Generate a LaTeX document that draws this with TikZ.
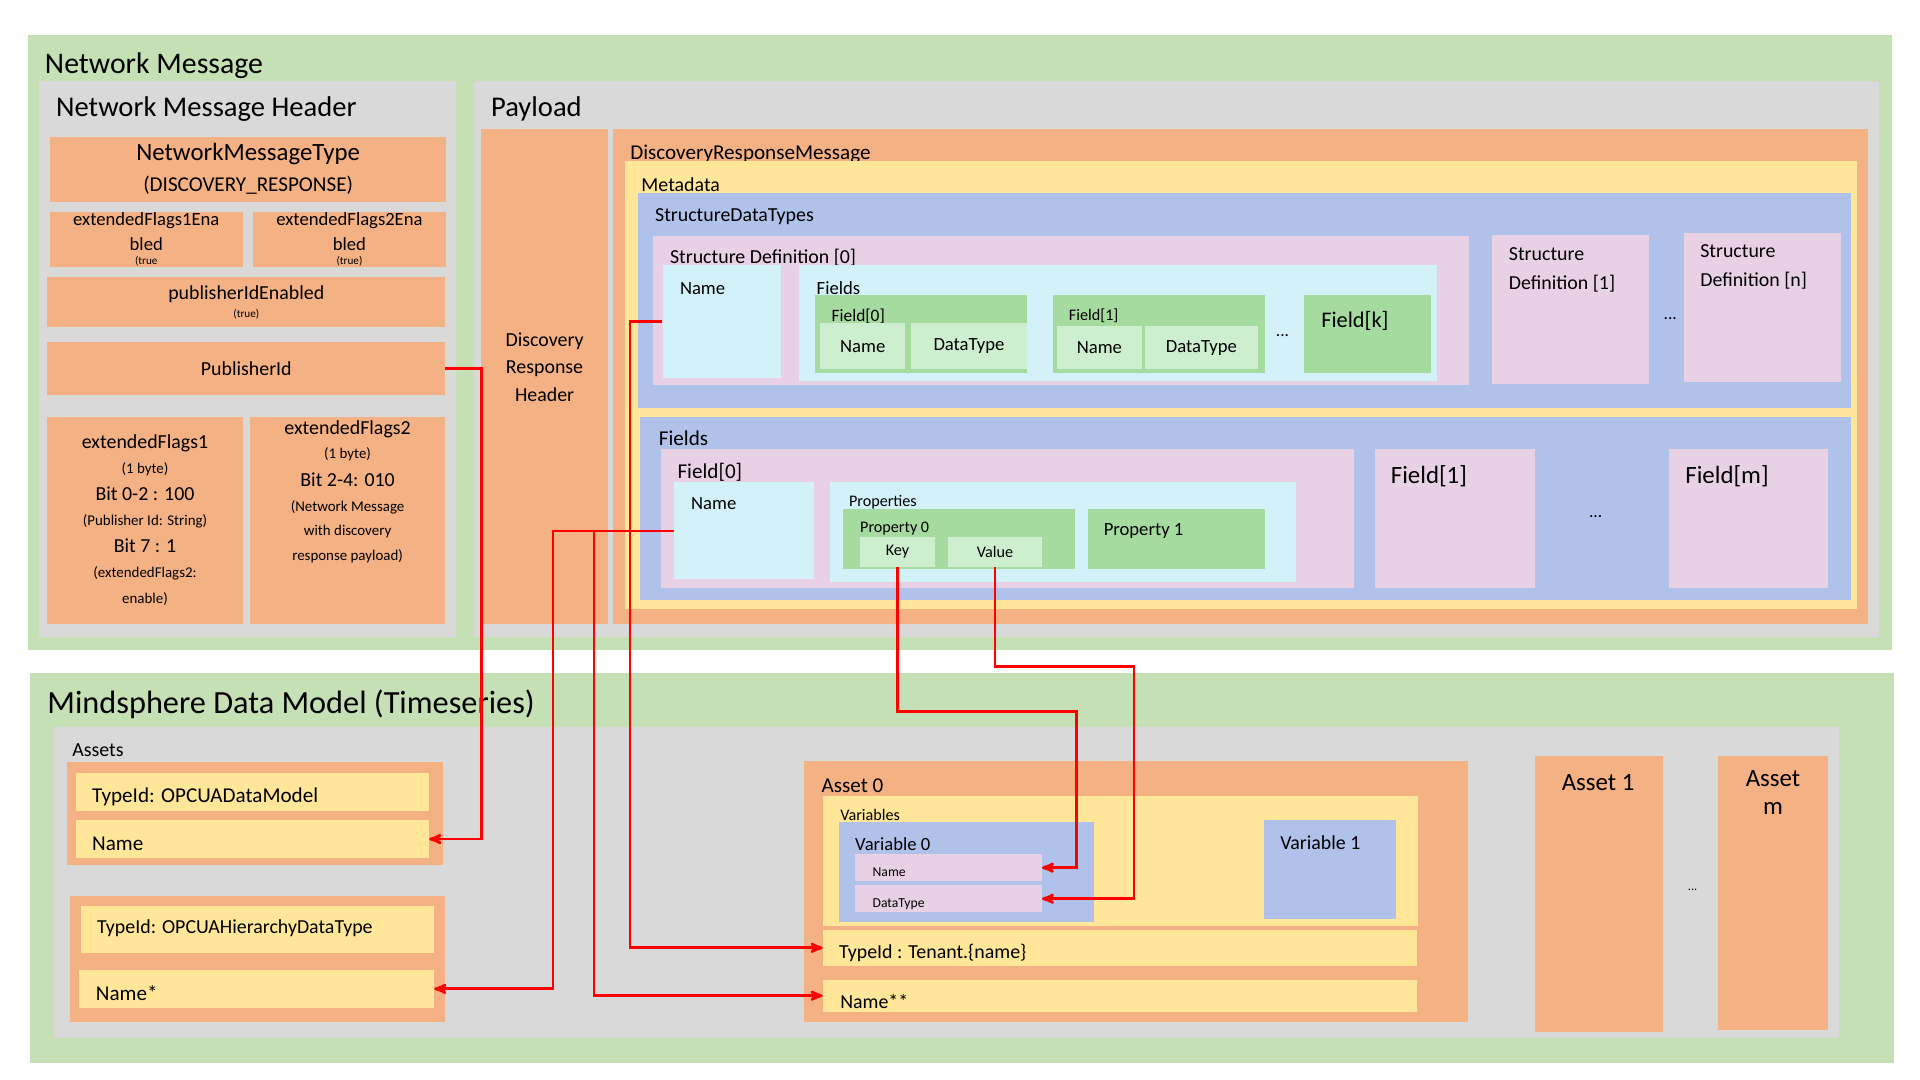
\documentclass[tikz,border=0pt]{standalone}
\usepackage{fontspec}
\setmainfont{Carlito}
\usetikzlibrary{calc,positioning,arrows}
\definecolor{cgreen}{HTML}{C5E0B4}
\definecolor{cgray}{HTML}{D9D9D9}
\definecolor{corange}{HTML}{F4B183}
\definecolor{cyellow}{HTML}{FFE699}
\definecolor{cblue}{HTML}{B0C2EA}
\definecolor{cpink}{HTML}{E8D1E4}
\definecolor{ccyan}{HTML}{D3F1F8}
\definecolor{cfield}{HTML}{A6DBA0}
\definecolor{clight}{HTML}{CDEFD0}
\definecolor{cred}{HTML}{FF0000}
\tikzset{
  blk/.style  = {rectangle, draw=none, inner sep=0pt, anchor=north west, align=center},
  lbl/.style  = {anchor=west, inner sep=0pt},
  link/.style = {->, >=stealth', draw=cred, line width=2.2pt}
}
% box: name, x1, y1, x2, y2, colour, text
\newcommand{\blk}[7]{\node[blk,fill=#6,minimum width={#4pt-#2pt},minimum height={#5pt-#3pt}] (#1) at (#2,#3) {#7};}
\newcommand{\fsz}[2]{{\fontsize{#1}{#1}\selectfont #2}}
\begin{document}
\begin{tikzpicture}[x=1pt,y=-1pt]
\useasboundingbox (0,0) rectangle (1545,869);
% network message
\blk{nm}{22}{28}{1522}{523}{cgreen}{}
\node[lbl,font=\fontsize{24}{26}\selectfont] (nmt) at (36,53) {Network Message};
\blk{hdr}{31}{65}{367}{512}{cgray}{}
\node[lbl,font=\fontsize{23}{25}\selectfont] (hdrt) at (45,88) {Network Message Header};
\blk{nmtype}{40}{110}{359}{162}{corange}{\fsz{20}{NetworkMessageType}\\[8pt]\fsz{17}{(DISCOVERY\_RESPONSE)}}
\blk{ef1e}{40}{170}{195}{215}{corange}{\fsz{15}{extendedFlags1Ena}\\[6pt]\fsz{15}{bled}\\[-1pt]\fsz{9}{(true}}
\blk{ef2e}{203}{170}{359}{215}{corange}{\fsz{15}{extendedFlags2Ena}\\[6pt]\fsz{15}{bled}\\[-1pt]\fsz{9}{(true)}}
\blk{pide}{38}{223}{358}{263}{corange}{\fsz{16}{publisherIdEnabled}\\[2pt]\fsz{9}{(true)}}
\blk{pubid}{38}{275}{358}{318}{corange}{\fsz{16}{PublisherId}}
\blk{ef1}{38}{335}{195}{502}{corange}{\fsz{16}{extendedFlags1}\\[8pt]\fsz{12}{(1 byte)}\\[8pt]\fsz{16}{Bit 0-2 : 100}\\[8pt]\fsz{12}{(Publisher Id: String)}\\[8pt]\fsz{16}{Bit 7 : 1}\\[8pt]\fsz{12}{(extendedFlags2:}\\[9pt]\fsz{12}{enable)}}
\blk{ef2}{201}{335}{358}{502}{corange}{\fsz{16}{extendedFlags2}\\[8pt]\fsz{12}{(1 byte)}\\[8pt]\fsz{16}{Bit 2-4: 010}\\[8pt]\fsz{12}{(Network Message}\\[8pt]\fsz{12}{with discovery}\\[8pt]\fsz{12}{response payload)}\\[36pt]}
% payload
\blk{pl}{381}{65}{1512}{512}{cgray}{}
\node[lbl,font=\fontsize{23}{25}\selectfont] (plt) at (395,88) {Payload};
\blk{drh}{387}{104}{489}{502}{corange}{\fsz{16}{Discovery}\\[8pt]\fsz{16}{Response}\\[8pt]\fsz{16}{Header}\\[4pt]}
\blk{drm}{493}{104}{1503}{502}{corange}{}
\node[lbl,font=\fontsize{17}{19}\selectfont] (drmt) at (507,124) {DiscoveryResponseMessage};
\blk{meta}{503}{129}{1494}{490}{cyellow}{}
\node[lbl,font=\fontsize{16}{18}\selectfont] (metat) at (516,149) {Metadata};
\blk{sdt}{513}{155}{1489}{328}{cblue}{}
\node[lbl,font=\fontsize{16}{18}\selectfont] (sdtt) at (527,174) {StructureDataTypes};
\blk{sd0}{525}{190}{1182}{310}{cpink}{}
\node[lbl,font=\fontsize{16}{18}\selectfont] (sd0t) at (539,207) {Structure Definition [0]};
\blk{sdname}{533}{213}{628}{304}{ccyan}{}
\node[lbl,font=\fontsize{15}{17}\selectfont] (sdnamet) at (547,232) {Name};
\blk{sdf}{643}{213}{1156}{306}{ccyan}{}
\node[lbl,font=\fontsize{15}{17}\selectfont] (sdft) at (657,232) {Fields};
\blk{fz}{656}{237}{826}{300}{cfield}{}
\node[lbl,font=\fontsize{14}{16}\selectfont] (fzt) at (669,255) {Field[0]};
\blk{fzn}{660}{260}{728}{297}{clight}{\fsz{15}{Name}}
\blk{fzd}{733}{260}{826}{297}{clight}{\fsz{15}{DataType}}
\blk{fo}{847}{237}{1018}{300}{cfield}{}
\node[lbl,font=\fontsize{13}{15}\selectfont] (fot) at (860,254) {Field[1]};
\blk{fon}{850}{262}{919}{297}{clight}{\fsz{15}{Name}}
\blk{fod}{921}{262}{1012}{297}{clight}{\fsz{15}{DataType}}
\node[font=\fontsize{14}{16}\selectfont] (dots1) at (1032,270) {...};
\blk{fk}{1049}{237}{1151}{300}{cfield}{}
\node[lbl,font=\fontsize{18}{20}\selectfont] (fkt) at (1063,258) {Field[k]};
\blk{sd1}{1200}{189}{1327}{309}{cpink}{}
\node[lbl,align=left,font=\fontsize{16}{23}\selectfont,anchor=north west] (sd1t) at (1214,199) {Structure\\Definition [1]};
\node[font=\fontsize{14}{16}\selectfont] (dots2) at (1344,256) {...};
\blk{sdn}{1355}{187}{1481}{307}{cpink}{}
\node[lbl,align=left,font=\fontsize{16}{23}\selectfont,anchor=north west] (sdnt) at (1368,197) {Structure\\Definition [n]};
% fields
\blk{flds}{515}{335}{1489}{483}{cblue}{}
\node[lbl,font=\fontsize{17}{19}\selectfont] (fldst) at (530,353) {Fields};
\blk{ff}{532}{361}{1089}{473}{cpink}{}
\node[lbl,font=\fontsize{17}{19}\selectfont] (fft) at (545,380) {Field[0]};
\blk{ffname}{542}{388}{655}{466}{ccyan}{}
\node[lbl,font=\fontsize{15}{17}\selectfont] (ffnamet) at (556,405) {Name};
\blk{prop}{668}{388}{1043}{468}{ccyan}{}
\node[lbl,font=\fontsize{13}{15}\selectfont] (propt) at (683,404) {Properties};
\blk{pz}{678}{409}{865}{458}{cfield}{}
\node[lbl,font=\fontsize{13}{15}\selectfont] (pzt) at (692,425) {Property 0};
\blk{key}{692}{432}{752}{456}{clight}{\fsz{13}{Key}}
\blk{val}{763}{432}{838}{456}{clight}{\fsz{13}{Value}}
\blk{po}{875}{409}{1018}{458}{cfield}{}
\node[lbl,font=\fontsize{15}{17}\selectfont] (pot) at (888,427) {Property 1};
\blk{fone}{1106}{361}{1235}{473}{cpink}{}
\node[lbl,font=\fontsize{20}{22}\selectfont] (fonet) at (1119,383) {Field[1]};
\node[font=\fontsize{14}{16}\selectfont] (dots3) at (1284,416) {...};
\blk{fm}{1343}{361}{1471}{473}{cpink}{}
\node[lbl,font=\fontsize{20}{22}\selectfont] (fmt) at (1356,383) {Field[m]};
% mindsphere
\blk{md}{24}{541}{1524}{855}{cgreen}{}
\blk{as}{43}{585}{1480}{835}{cgray}{}
\node[lbl,font=\fontsize{26}{28}\selectfont] (mdt) at (38,567) {Mindsphere Data Model (Timeseries)};
\node[lbl,font=\fontsize{16}{18}\selectfont] (ast) at (58,604) {Assets};
\blk{ma}{54}{613}{356}{696}{corange}{}
\blk{matype}{61}{622}{345}{652}{cyellow}{}
\node[lbl,font=\fontsize{17}{19}\selectfont] (matypet) at (74,641) {TypeId: OPCUADataModel};
\blk{maname}{61}{660}{345}{690}{cyellow}{}
\node[lbl,font=\fontsize{17}{19}\selectfont] (manamet) at (74,679) {Name};
\blk{mb}{56}{721}{358}{822}{corange}{}
\blk{mbtype}{65}{729}{349}{767}{cyellow}{}
\node[lbl,font=\fontsize{16}{18}\selectfont] (mbtypet) at (78,747) {TypeId: OPCUAHierarchyDataType};
\blk{mbname}{63}{780}{349}{811}{cyellow}{}
\node[lbl,font=\fontsize{17}{19}\selectfont] (mbnamet) at (77,799) {Name*};
\blk{az}{647}{612}{1181}{822}{corange}{}
\node[lbl,font=\fontsize{17}{19}\selectfont] (azt) at (661,632) {Asset 0};
\blk{vars}{662}{640}{1141}{745}{cyellow}{}
\node[lbl,font=\fontsize{13}{15}\selectfont] (varst) at (676,656) {Variables};
\blk{vz}{675}{661}{880}{742}{cblue}{}
\node[lbl,font=\fontsize{15}{17}\selectfont] (vzt) at (688,679) {Variable 0};
\blk{vzname}{688}{687}{838}{709}{cpink}{}
\node[lbl,font=\fontsize{11}{13}\selectfont] (vznamet) at (702,702) {Name};
\blk{vzdt}{688}{712}{838}{734}{cpink}{}
\node[lbl,font=\fontsize{11}{13}\selectfont] (vzdtt) at (702,728) {DataType};
\blk{vo}{1017}{660}{1123}{739}{cblue}{}
\node[lbl,font=\fontsize{16}{18}\selectfont] (vot) at (1030,678) {Variable 1};
\blk{aztype}{662}{748}{1140}{777}{cyellow}{}
\node[lbl,font=\fontsize{16}{18}\selectfont] (aztypet) at (675,767) {TypeId : Tenant.\{name\}};
\blk{azname}{662}{788}{1140}{814}{cyellow}{}
\node[lbl,font=\fontsize{16}{18}\selectfont] (aznamet) at (676,806) {Name**};
\blk{ao}{1235}{608}{1338}{830}{corange}{}
\node[font=\fontsize{20}{22}\selectfont,anchor=north] (aot) at (1286,620) {Asset 1};
\node[font=\fontsize{10}{12}\selectfont] (dots4) at (1362,716) {...};
\blk{am}{1382}{608}{1471}{829}{corange}{\fsz{20}{Asset}\\[10pt]\fsz{20}{m}\\[150pt]}
% links
\draw[link] (pubid.east) -- ++(29,0) |- (maname.east);
\draw[link] (sdname.west) -- ++(-26,0) |- (aztype.west);
\draw[link] (ffname.west) -- ++(-97,0) |- (mbname.east);
\draw[link] (ffname.west) -- ++(-64,0) |- (azname.west);
\draw[link] (key.south) -- ++(0,116) -| ($(vzname.east)+(28,0)$) -- (vzname.east);
\draw[link] (val.south) -- ++(0,80) -| ($(vzdt.east)+(74,0)$) -- (vzdt.east);
\end{tikzpicture}
\end{document}
